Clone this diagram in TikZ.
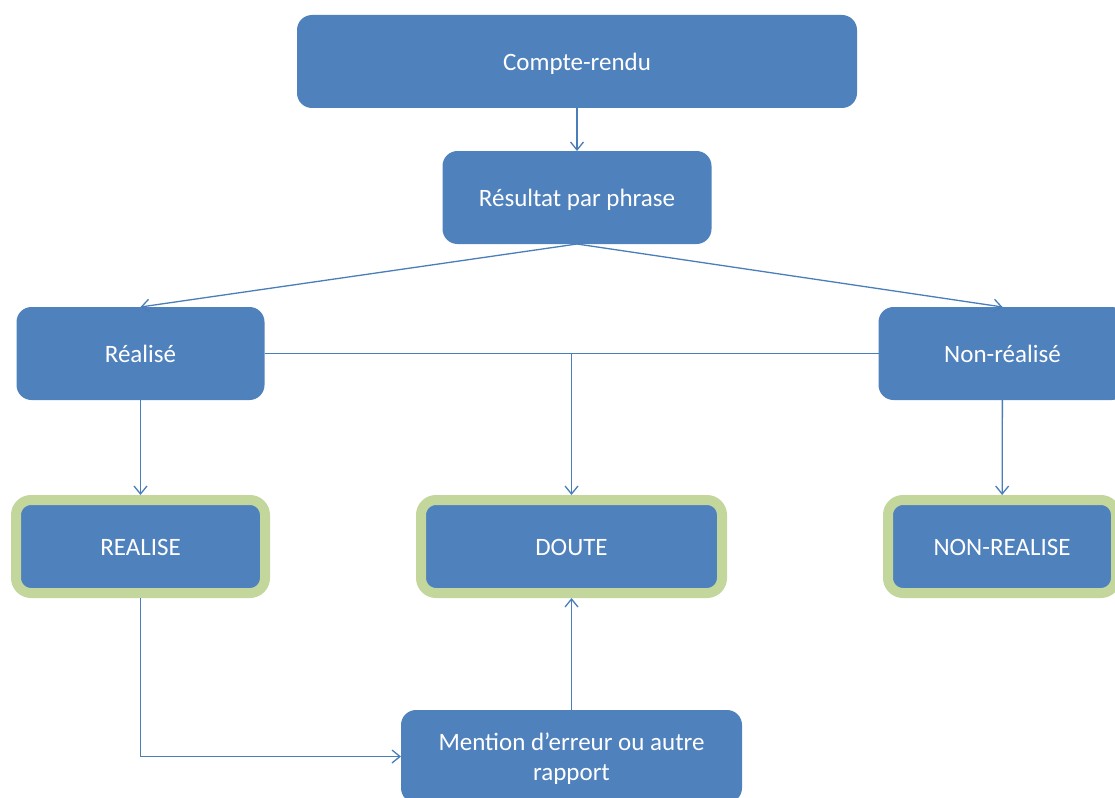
\documentclass[tikz,border=0pt]{standalone}
\usepackage{fontspec}
\setmainfont{Carlito}
\usetikzlibrary{arrows.meta,positioning}
\definecolor{boxblue}{HTML}{4F81BD}
\definecolor{lineblue}{HTML}{4A7EBB}
\definecolor{boxgreen}{HTML}{C3D69B}

\begin{document}
\begin{tikzpicture}[x=1pt, y=-1pt,
    >={Straight Barb[length=8pt,width=13pt]},
    every node/.append style={align=center},
    box/.style={fill=boxblue, rounded corners=15pt, minimum height=93pt,
        inner sep=2pt, outer sep=0pt, text=white,
        font=\fontsize{25}{30.5}\selectfont},
    one/.style={box, text height=22pt, text depth=4pt},
    outc/.style={one, draw=boxgreen, line width=10pt, outer sep=5pt},
    link/.style={lineblue, line width=1.3pt}]
   \useasboundingbox (0,0) rectangle (1115,797);
   \clip (0,0) rectangle (1115,797);
   \node [one, minimum width=560pt] (CR) at (577,61.5) {Compte-rendu};
   \node [one, minimum width=269pt, below=43pt of CR] (RP) {Résultat par phrase};
   \node [one, minimum width=248pt, below left=63pt and 178pt of RP] (R) {Réalisé};
   \node [one, minimum width=248pt, below right=63pt and 167pt of RP] (N) {Non-réalisé};
   \node [outc, minimum width=249pt, below=95pt of R] (RE) {REALISE};
   \node [outc, minimum width=301pt, right=146pt of RE] (D) {DOUTE};
   \node [outc, minimum width=228pt, right=156pt of D] (NR) {NON-REALISE};
   \node [box, minimum width=341pt, below=112pt of D] (M) {\rule{0pt}{27pt}Mention d’erreur ou autre\\rapport\strut};
   \coordinate (J) at (R.east -| D.north);

   \path[link, ->] (CR) edge (RP)
   (RP.south) edge (R.north)
   (RP.south) edge (N.north)
   (R) edge (RE)
   (N) edge (NR)
   (M) edge (D);
   \draw[link] (R.east) -- (N.west);
   \draw[link, ->] (J) -- (D.north);
   \draw[link, ->] (RE.south) |- (M.west);
\end{tikzpicture}
\end{document}
